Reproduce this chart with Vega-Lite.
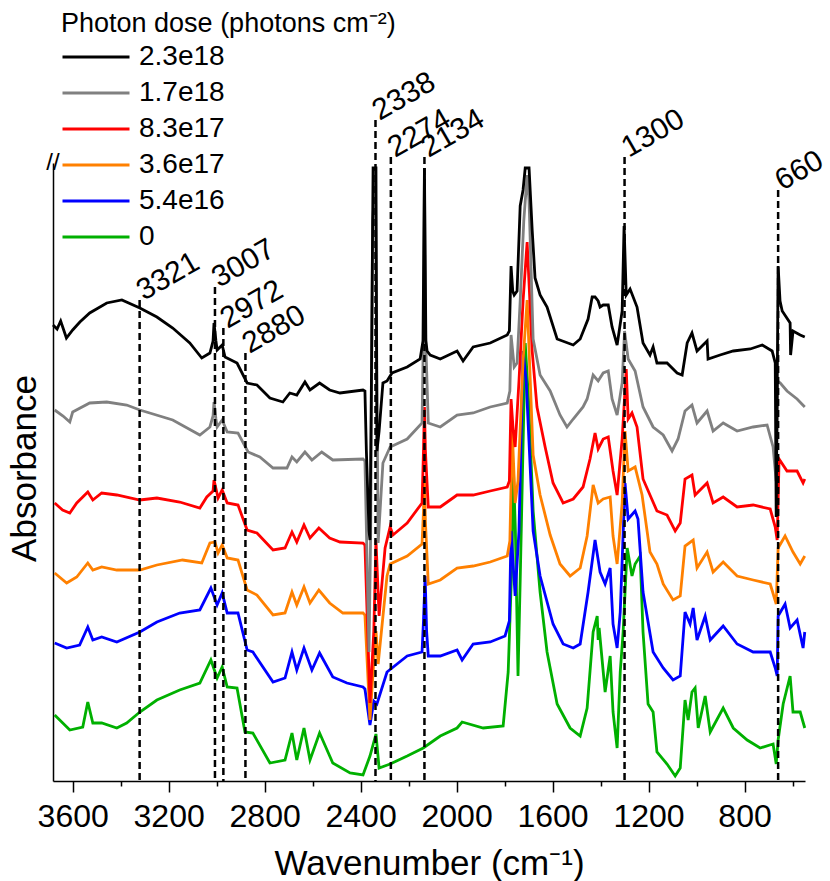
{
  "$schema": "https://vega.github.io/schema/vega-lite/v6.json",
  "width": 752,
  "height": 618,
  "autosize": {"type": "none"},
  "padding": {"left": 53, "top": 163, "right": 25, "bottom": 100},
  "background": "white",
  "config": {"view": {"stroke": null}, "font": "Liberation Sans", "axis": {"grid": false}},
  "datasets": {
    "marks": [
      {"wn": 3321, "top": 481}, {"wn": 3007, "top": 494}, {"wn": 2972, "top": 453},
      {"wn": 2880, "top": 428}, {"wn": 2338, "top": 661}, {"wn": 2274, "top": 624},
      {"wn": 2134, "top": 624}, {"wn": 1300, "top": 624}, {"wn": 660, "top": 591}
    ],
    "spectra": [
      {"d":"0","wn":3675,"a":66},{"d":"0","wn":3612,"a":51},{"d":"0","wn":3558,"a":54},{"d":"0","wn":3537,"a":79},{"d":"0","wn":3516,"a":58},{"d":"0","wn":3479,"a":58},{"d":"0","wn":3416,"a":53},{"d":"0","wn":3375,"a":58},{"d":"0","wn":3320,"a":69},{"d":"0","wn":3249,"a":81},{"d":"0","wn":3154,"a":91},{"d":"0","wn":3070,"a":98},{"d":"0","wn":3024,"a":121},{"d":"0","wn":2998,"a":103},{"d":"0","wn":2977,"a":114},{"d":"0","wn":2956,"a":94},{"d":"0","wn":2915,"a":93},{"d":"0","wn":2882,"a":49},{"d":"0","wn":2849,"a":48},{"d":"0","wn":2778,"a":18},{"d":"0","wn":2715,"a":21},{"d":"0","wn":2686,"a":48},{"d":"0","wn":2666,"a":21},{"d":"0","wn":2636,"a":53},{"d":"0","wn":2611,"a":21},{"d":"0","wn":2571,"a":48},{"d":"0","wn":2516,"a":18},{"d":"0","wn":2444,"a":8},{"d":"0","wn":2390,"a":6},{"d":"0","wn":2361,"a":25},{"d":"0","wn":2336,"a":47},{"d":"0","wn":2323,"a":13},{"d":"0","wn":2277,"a":17},{"d":"0","wn":2206,"a":25},{"d":"0","wn":2139,"a":33},{"d":"0","wn":2068,"a":45},{"d":"0","wn":1998,"a":53},{"d":"0","wn":1977,"a":59},{"d":"0","wn":1889,"a":53},{"d":"0","wn":1806,"a":55},{"d":"0","wn":1785,"a":109},{"d":"0","wn":1768,"a":229},{"d":"0","wn":1764,"a":318},{"d":"0","wn":1755,"a":250},{"d":"0","wn":1744,"a":105},{"d":"0","wn":1735,"a":200},{"d":"0","wn":1714,"a":438},{"d":"0","wn":1700,"a":380},{"d":"0","wn":1681,"a":270},{"d":"0","wn":1652,"a":189},{"d":"0","wn":1623,"a":129},{"d":"0","wn":1581,"a":77},{"d":"0","wn":1527,"a":53},{"d":"0","wn":1485,"a":45},{"d":"0","wn":1456,"a":73},{"d":"0","wn":1431,"a":149},{"d":"0","wn":1414,"a":165},{"d":"0","wn":1410,"a":141},{"d":"0","wn":1406,"a":153},{"d":"0","wn":1381,"a":89},{"d":"0","wn":1360,"a":125},{"d":"0","wn":1348,"a":69},{"d":"0","wn":1331,"a":33},{"d":"0","wn":1318,"a":109},{"d":"0","wn":1306,"a":149},{"d":"0","wn":1289,"a":233},{"d":"0","wn":1269,"a":205},{"d":"0","wn":1256,"a":217},{"d":"0","wn":1235,"a":225},{"d":"0","wn":1223,"a":149},{"d":"0","wn":1202,"a":77},{"d":"0","wn":1181,"a":69},{"d":"0","wn":1165,"a":29},{"d":"0","wn":1123,"a":17},{"d":"0","wn":1089,"a":5},{"d":"0","wn":1068,"a":13},{"d":"0","wn":1048,"a":81},{"d":"0","wn":1035,"a":61},{"d":"0","wn":1019,"a":89},{"d":"0","wn":1006,"a":93},{"d":"0","wn":993,"a":53},{"d":"0","wn":964,"a":85},{"d":"0","wn":943,"a":49},{"d":"0","wn":889,"a":73},{"d":"0","wn":847,"a":53},{"d":"0","wn":789,"a":41},{"d":"0","wn":735,"a":33},{"d":"0","wn":681,"a":37},{"d":"0","wn":668,"a":17},{"d":"0","wn":660,"a":41},{"d":"0","wn":639,"a":77},{"d":"0","wn":610,"a":105},{"d":"0","wn":598,"a":69},{"d":"0","wn":568,"a":69},{"d":"0","wn":549,"a":53},
      {"d":"5.4e16","wn":3675,"a":138},{"d":"5.4e16","wn":3625,"a":133},{"d":"5.4e16","wn":3571,"a":136},{"d":"5.4e16","wn":3537,"a":154},{"d":"5.4e16","wn":3516,"a":141},{"d":"5.4e16","wn":3479,"a":144},{"d":"5.4e16","wn":3416,"a":139},{"d":"5.4e16","wn":3320,"a":149},{"d":"5.4e16","wn":3249,"a":159},{"d":"5.4e16","wn":3154,"a":168},{"d":"5.4e16","wn":3070,"a":171},{"d":"5.4e16","wn":3024,"a":193},{"d":"5.4e16","wn":2998,"a":176},{"d":"5.4e16","wn":2977,"a":188},{"d":"5.4e16","wn":2956,"a":168},{"d":"5.4e16","wn":2911,"a":168},{"d":"5.4e16","wn":2873,"a":131},{"d":"5.4e16","wn":2849,"a":129},{"d":"5.4e16","wn":2765,"a":99},{"d":"5.4e16","wn":2715,"a":103},{"d":"5.4e16","wn":2686,"a":129},{"d":"5.4e16","wn":2666,"a":111},{"d":"5.4e16","wn":2636,"a":133},{"d":"5.4e16","wn":2603,"a":111},{"d":"5.4e16","wn":2571,"a":128},{"d":"5.4e16","wn":2516,"a":104},{"d":"5.4e16","wn":2457,"a":98},{"d":"5.4e16","wn":2390,"a":94},{"d":"5.4e16","wn":2382,"a":92},{"d":"5.4e16","wn":2361,"a":56},{"d":"5.4e16","wn":2345,"a":80},{"d":"5.4e16","wn":2332,"a":77},{"d":"5.4e16","wn":2290,"a":109},{"d":"5.4e16","wn":2206,"a":125},{"d":"5.4e16","wn":2144,"a":129},{"d":"5.4e16","wn":2138,"a":160},{"d":"5.4e16","wn":2131,"a":205},{"d":"5.4e16","wn":2125,"a":150},{"d":"5.4e16","wn":2118,"a":125},{"d":"5.4e16","wn":2068,"a":125},{"d":"5.4e16","wn":1998,"a":131},{"d":"5.4e16","wn":1977,"a":121},{"d":"5.4e16","wn":1931,"a":137},{"d":"5.4e16","wn":1860,"a":139},{"d":"5.4e16","wn":1798,"a":145},{"d":"5.4e16","wn":1780,"a":160},{"d":"5.4e16","wn":1773,"a":250},{"d":"5.4e16","wn":1756,"a":185},{"d":"5.4e16","wn":1740,"a":250},{"d":"5.4e16","wn":1723,"a":430},{"d":"5.4e16","wn":1710,"a":400},{"d":"5.4e16","wn":1681,"a":250},{"d":"5.4e16","wn":1652,"a":205},{"d":"5.4e16","wn":1598,"a":157},{"d":"5.4e16","wn":1556,"a":137},{"d":"5.4e16","wn":1514,"a":133},{"d":"5.4e16","wn":1485,"a":137},{"d":"5.4e16","wn":1452,"a":189},{"d":"5.4e16","wn":1423,"a":241},{"d":"5.4e16","wn":1402,"a":209},{"d":"5.4e16","wn":1381,"a":197},{"d":"5.4e16","wn":1360,"a":213},{"d":"5.4e16","wn":1348,"a":157},{"d":"5.4e16","wn":1331,"a":133},{"d":"5.4e16","wn":1318,"a":169},{"d":"5.4e16","wn":1298,"a":298},{"d":"5.4e16","wn":1285,"a":262},{"d":"5.4e16","wn":1256,"a":270},{"d":"5.4e16","wn":1244,"a":262},{"d":"5.4e16","wn":1223,"a":189},{"d":"5.4e16","wn":1181,"a":129},{"d":"5.4e16","wn":1139,"a":113},{"d":"5.4e16","wn":1098,"a":101},{"d":"5.4e16","wn":1068,"a":105},{"d":"5.4e16","wn":1048,"a":169},{"d":"5.4e16","wn":1027,"a":157},{"d":"5.4e16","wn":1014,"a":173},{"d":"5.4e16","wn":998,"a":141},{"d":"5.4e16","wn":964,"a":165},{"d":"5.4e16","wn":943,"a":141},{"d":"5.4e16","wn":889,"a":155},{"d":"5.4e16","wn":831,"a":137},{"d":"5.4e16","wn":764,"a":129},{"d":"5.4e16","wn":693,"a":129},{"d":"5.4e16","wn":672,"a":113},{"d":"5.4e16","wn":664,"a":105},{"d":"5.4e16","wn":660,"a":165},{"d":"5.4e16","wn":631,"a":177},{"d":"5.4e16","wn":610,"a":153},{"d":"5.4e16","wn":581,"a":161},{"d":"5.4e16","wn":556,"a":133},{"d":"5.4e16","wn":549,"a":149},
      {"d":"3.6e17","wn":3675,"a":208},{"d":"3.6e17","wn":3625,"a":198},{"d":"3.6e17","wn":3583,"a":204},{"d":"3.6e17","wn":3537,"a":218},{"d":"3.6e17","wn":3516,"a":211},{"d":"3.6e17","wn":3479,"a":214},{"d":"3.6e17","wn":3416,"a":211},{"d":"3.6e17","wn":3320,"a":211},{"d":"3.6e17","wn":3249,"a":216},{"d":"3.6e17","wn":3142,"a":221},{"d":"3.6e17","wn":3062,"a":218},{"d":"3.6e17","wn":3028,"a":238},{"d":"3.6e17","wn":3007,"a":239},{"d":"3.6e17","wn":2994,"a":228},{"d":"3.6e17","wn":2977,"a":236},{"d":"3.6e17","wn":2956,"a":223},{"d":"3.6e17","wn":2911,"a":221},{"d":"3.6e17","wn":2873,"a":191},{"d":"3.6e17","wn":2832,"a":186},{"d":"3.6e17","wn":2765,"a":166},{"d":"3.6e17","wn":2715,"a":168},{"d":"3.6e17","wn":2686,"a":189},{"d":"3.6e17","wn":2666,"a":176},{"d":"3.6e17","wn":2636,"a":194},{"d":"3.6e17","wn":2611,"a":178},{"d":"3.6e17","wn":2574,"a":191},{"d":"3.6e17","wn":2529,"a":178},{"d":"3.6e17","wn":2474,"a":168},{"d":"3.6e17","wn":2390,"a":168},{"d":"3.6e17","wn":2382,"a":166},{"d":"3.6e17","wn":2361,"a":61},{"d":"3.6e17","wn":2345,"a":120},{"d":"3.6e17","wn":2336,"a":150},{"d":"3.6e17","wn":2327,"a":117},{"d":"3.6e17","wn":2290,"a":205},{"d":"3.6e17","wn":2277,"a":217},{"d":"3.6e17","wn":2206,"a":225},{"d":"3.6e17","wn":2144,"a":237},{"d":"3.6e17","wn":2138,"a":270},{"d":"3.6e17","wn":2134,"a":302},{"d":"3.6e17","wn":2130,"a":260},{"d":"3.6e17","wn":2118,"a":197},{"d":"3.6e17","wn":2068,"a":201},{"d":"3.6e17","wn":1998,"a":213},{"d":"3.6e17","wn":1931,"a":215},{"d":"3.6e17","wn":1860,"a":219},{"d":"3.6e17","wn":1789,"a":225},{"d":"3.6e17","wn":1778,"a":240},{"d":"3.6e17","wn":1768,"a":350},{"d":"3.6e17","wn":1756,"a":278},{"d":"3.6e17","wn":1744,"a":300},{"d":"3.6e17","wn":1723,"a":420},{"d":"3.6e17","wn":1706,"a":481},{"d":"3.6e17","wn":1681,"a":326},{"d":"3.6e17","wn":1652,"a":286},{"d":"3.6e17","wn":1610,"a":246},{"d":"3.6e17","wn":1569,"a":217},{"d":"3.6e17","wn":1527,"a":205},{"d":"3.6e17","wn":1485,"a":213},{"d":"3.6e17","wn":1456,"a":245},{"d":"3.6e17","wn":1431,"a":296},{"d":"3.6e17","wn":1410,"a":278},{"d":"3.6e17","wn":1389,"a":282},{"d":"3.6e17","wn":1360,"a":284},{"d":"3.6e17","wn":1348,"a":245},{"d":"3.6e17","wn":1331,"a":217},{"d":"3.6e17","wn":1310,"a":278},{"d":"3.6e17","wn":1298,"a":350},{"d":"3.6e17","wn":1285,"a":310},{"d":"3.6e17","wn":1256,"a":314},{"d":"3.6e17","wn":1227,"a":286},{"d":"3.6e17","wn":1194,"a":229},{"d":"3.6e17","wn":1165,"a":217},{"d":"3.6e17","wn":1139,"a":197},{"d":"3.6e17","wn":1098,"a":181},{"d":"3.6e17","wn":1068,"a":185},{"d":"3.6e17","wn":1048,"a":235},{"d":"3.6e17","wn":1014,"a":241},{"d":"3.6e17","wn":998,"a":213},{"d":"3.6e17","wn":956,"a":229},{"d":"3.6e17","wn":931,"a":209},{"d":"3.6e17","wn":889,"a":219},{"d":"3.6e17","wn":831,"a":205},{"d":"3.6e17","wn":764,"a":201},{"d":"3.6e17","wn":693,"a":197},{"d":"3.6e17","wn":668,"a":177},{"d":"3.6e17","wn":660,"a":233},{"d":"3.6e17","wn":631,"a":245},{"d":"3.6e17","wn":598,"a":229},{"d":"3.6e17","wn":568,"a":217},{"d":"3.6e17","wn":549,"a":225},
      {"d":"8.3e17","wn":3675,"a":278},{"d":"8.3e17","wn":3642,"a":271},{"d":"8.3e17","wn":3612,"a":268},{"d":"8.3e17","wn":3583,"a":278},{"d":"8.3e17","wn":3537,"a":289},{"d":"8.3e17","wn":3516,"a":281},{"d":"8.3e17","wn":3479,"a":288},{"d":"8.3e17","wn":3416,"a":286},{"d":"8.3e17","wn":3320,"a":281},{"d":"8.3e17","wn":3249,"a":283},{"d":"8.3e17","wn":3154,"a":279},{"d":"8.3e17","wn":3070,"a":273},{"d":"8.3e17","wn":3041,"a":284},{"d":"8.3e17","wn":3015,"a":290},{"d":"8.3e17","wn":3011,"a":301},{"d":"8.3e17","wn":2994,"a":283},{"d":"8.3e17","wn":2977,"a":291},{"d":"8.3e17","wn":2956,"a":278},{"d":"8.3e17","wn":2911,"a":276},{"d":"8.3e17","wn":2873,"a":251},{"d":"8.3e17","wn":2832,"a":248},{"d":"8.3e17","wn":2765,"a":231},{"d":"8.3e17","wn":2715,"a":233},{"d":"8.3e17","wn":2686,"a":249},{"d":"8.3e17","wn":2666,"a":239},{"d":"8.3e17","wn":2636,"a":256},{"d":"8.3e17","wn":2611,"a":243},{"d":"8.3e17","wn":2574,"a":253},{"d":"8.3e17","wn":2529,"a":243},{"d":"8.3e17","wn":2486,"a":239},{"d":"8.3e17","wn":2390,"a":238},{"d":"8.3e17","wn":2382,"a":236},{"d":"8.3e17","wn":2361,"a":78},{"d":"8.3e17","wn":2345,"a":150},{"d":"8.3e17","wn":2336,"a":241},{"d":"8.3e17","wn":2323,"a":165},{"d":"8.3e17","wn":2298,"a":233},{"d":"8.3e17","wn":2277,"a":254},{"d":"8.3e17","wn":2265,"a":246},{"d":"8.3e17","wn":2206,"a":258},{"d":"8.3e17","wn":2144,"a":278},{"d":"8.3e17","wn":2138,"a":330},{"d":"8.3e17","wn":2134,"a":374},{"d":"8.3e17","wn":2130,"a":330},{"d":"8.3e17","wn":2118,"a":274},{"d":"8.3e17","wn":2068,"a":274},{"d":"8.3e17","wn":1998,"a":286},{"d":"8.3e17","wn":1931,"a":286},{"d":"8.3e17","wn":1860,"a":290},{"d":"8.3e17","wn":1789,"a":294},{"d":"8.3e17","wn":1780,"a":300},{"d":"8.3e17","wn":1773,"a":382},{"d":"8.3e17","wn":1764,"a":350},{"d":"8.3e17","wn":1756,"a":334},{"d":"8.3e17","wn":1740,"a":400},{"d":"8.3e17","wn":1723,"a":480},{"d":"8.3e17","wn":1706,"a":539},{"d":"8.3e17","wn":1685,"a":430},{"d":"8.3e17","wn":1665,"a":374},{"d":"8.3e17","wn":1631,"a":334},{"d":"8.3e17","wn":1598,"a":298},{"d":"8.3e17","wn":1556,"a":278},{"d":"8.3e17","wn":1514,"a":282},{"d":"8.3e17","wn":1473,"a":294},{"d":"8.3e17","wn":1444,"a":322},{"d":"8.3e17","wn":1423,"a":348},{"d":"8.3e17","wn":1410,"a":332},{"d":"8.3e17","wn":1389,"a":342},{"d":"8.3e17","wn":1368,"a":344},{"d":"8.3e17","wn":1348,"a":310},{"d":"8.3e17","wn":1331,"a":286},{"d":"8.3e17","wn":1310,"a":342},{"d":"8.3e17","wn":1293,"a":412},{"d":"8.3e17","wn":1285,"a":362},{"d":"8.3e17","wn":1269,"a":368},{"d":"8.3e17","wn":1248,"a":354},{"d":"8.3e17","wn":1223,"a":302},{"d":"8.3e17","wn":1194,"a":286},{"d":"8.3e17","wn":1165,"a":270},{"d":"8.3e17","wn":1123,"a":266},{"d":"8.3e17","wn":1089,"a":250},{"d":"8.3e17","wn":1068,"a":258},{"d":"8.3e17","wn":1048,"a":302},{"d":"8.3e17","wn":1019,"a":306},{"d":"8.3e17","wn":1006,"a":286},{"d":"8.3e17","wn":956,"a":298},{"d":"8.3e17","wn":931,"a":278},{"d":"8.3e17","wn":889,"a":284},{"d":"8.3e17","wn":831,"a":274},{"d":"8.3e17","wn":764,"a":276},{"d":"8.3e17","wn":693,"a":272},{"d":"8.3e17","wn":672,"a":254},{"d":"8.3e17","wn":664,"a":241},{"d":"8.3e17","wn":656,"a":322},{"d":"8.3e17","wn":623,"a":310},{"d":"8.3e17","wn":581,"a":310},{"d":"8.3e17","wn":556,"a":298},{"d":"8.3e17","wn":549,"a":302},
      {"d":"1.7e18","wn":3675,"a":371},{"d":"1.7e18","wn":3640,"a":365},{"d":"1.7e18","wn":3612,"a":359},{"d":"1.7e18","wn":3600,"a":369},{"d":"1.7e18","wn":3529,"a":378},{"d":"1.7e18","wn":3458,"a":379},{"d":"1.7e18","wn":3375,"a":376},{"d":"1.7e18","wn":3320,"a":371},{"d":"1.7e18","wn":3183,"a":361},{"d":"1.7e18","wn":3070,"a":346},{"d":"1.7e18","wn":3028,"a":354},{"d":"1.7e18","wn":3015,"a":365},{"d":"1.7e18","wn":3011,"a":379},{"d":"1.7e18","wn":3003,"a":362},{"d":"1.7e18","wn":2998,"a":354},{"d":"1.7e18","wn":2977,"a":361},{"d":"1.7e18","wn":2956,"a":349},{"d":"1.7e18","wn":2911,"a":348},{"d":"1.7e18","wn":2869,"a":329},{"d":"1.7e18","wn":2820,"a":324},{"d":"1.7e18","wn":2765,"a":313},{"d":"1.7e18","wn":2707,"a":313},{"d":"1.7e18","wn":2686,"a":324},{"d":"1.7e18","wn":2666,"a":319},{"d":"1.7e18","wn":2632,"a":329},{"d":"1.7e18","wn":2603,"a":321},{"d":"1.7e18","wn":2562,"a":329},{"d":"1.7e18","wn":2516,"a":321},{"d":"1.7e18","wn":2390,"a":322},{"d":"1.7e18","wn":2382,"a":320},{"d":"1.7e18","wn":2365,"a":129},{"d":"1.7e18","wn":2358,"a":250},{"d":"1.7e18","wn":2350,"a":560},{"d":"1.7e18","wn":2338,"a":600},{"d":"1.7e18","wn":2332,"a":400},{"d":"1.7e18","wn":2327,"a":238},{"d":"1.7e18","wn":2307,"a":318},{"d":"1.7e18","wn":2277,"a":334},{"d":"1.7e18","wn":2206,"a":342},{"d":"1.7e18","wn":2144,"a":358},{"d":"1.7e18","wn":2138,"a":450},{"d":"1.7e18","wn":2134,"a":606},{"d":"1.7e18","wn":2130,"a":450},{"d":"1.7e18","wn":2118,"a":358},{"d":"1.7e18","wn":2068,"a":354},{"d":"1.7e18","wn":1998,"a":366},{"d":"1.7e18","wn":1931,"a":368},{"d":"1.7e18","wn":1860,"a":374},{"d":"1.7e18","wn":1789,"a":378},{"d":"1.7e18","wn":1778,"a":390},{"d":"1.7e18","wn":1773,"a":446},{"d":"1.7e18","wn":1760,"a":414},{"d":"1.7e18","wn":1748,"a":418},{"d":"1.7e18","wn":1735,"a":480},{"d":"1.7e18","wn":1720,"a":560},{"d":"1.7e18","wn":1706,"a":606},{"d":"1.7e18","wn":1698,"a":580},{"d":"1.7e18","wn":1681,"a":442},{"d":"1.7e18","wn":1652,"a":406},{"d":"1.7e18","wn":1610,"a":390},{"d":"1.7e18","wn":1569,"a":366},{"d":"1.7e18","wn":1540,"a":354},{"d":"1.7e18","wn":1514,"a":362},{"d":"1.7e18","wn":1473,"a":374},{"d":"1.7e18","wn":1456,"a":382},{"d":"1.7e18","wn":1431,"a":406},{"d":"1.7e18","wn":1410,"a":400},{"d":"1.7e18","wn":1389,"a":408},{"d":"1.7e18","wn":1368,"a":410},{"d":"1.7e18","wn":1352,"a":382},{"d":"1.7e18","wn":1331,"a":366},{"d":"1.7e18","wn":1310,"a":398},{"d":"1.7e18","wn":1300,"a":450},{"d":"1.7e18","wn":1285,"a":422},{"d":"1.7e18","wn":1256,"a":410},{"d":"1.7e18","wn":1223,"a":374},{"d":"1.7e18","wn":1181,"a":354},{"d":"1.7e18","wn":1139,"a":346},{"d":"1.7e18","wn":1102,"a":330},{"d":"1.7e18","wn":1077,"a":342},{"d":"1.7e18","wn":1048,"a":370},{"d":"1.7e18","wn":1019,"a":376},{"d":"1.7e18","wn":998,"a":358},{"d":"1.7e18","wn":956,"a":370},{"d":"1.7e18","wn":931,"a":350},{"d":"1.7e18","wn":889,"a":358},{"d":"1.7e18","wn":831,"a":350},{"d":"1.7e18","wn":764,"a":354},{"d":"1.7e18","wn":706,"a":356},{"d":"1.7e18","wn":681,"a":334},{"d":"1.7e18","wn":668,"a":300},{"d":"1.7e18","wn":662,"a":400},{"d":"1.7e18","wn":651,"a":398},{"d":"1.7e18","wn":623,"a":390},{"d":"1.7e18","wn":581,"a":382},{"d":"1.7e18","wn":549,"a":374},
      {"d":"2.3e18","wn":3682,"a":456},{"d":"2.3e18","wn":3665,"a":452},{"d":"2.3e18","wn":3650,"a":460},{"d":"2.3e18","wn":3626,"a":443},{"d":"2.3e18","wn":3600,"a":451},{"d":"2.3e18","wn":3570,"a":459},{"d":"2.3e18","wn":3529,"a":468},{"d":"2.3e18","wn":3458,"a":478},{"d":"2.3e18","wn":3395,"a":481},{"d":"2.3e18","wn":3320,"a":473},{"d":"2.3e18","wn":3249,"a":464},{"d":"2.3e18","wn":3183,"a":453},{"d":"2.3e18","wn":3112,"a":438},{"d":"2.3e18","wn":3062,"a":423},{"d":"2.3e18","wn":3028,"a":428},{"d":"2.3e18","wn":3015,"a":440},{"d":"2.3e18","wn":3011,"a":458},{"d":"2.3e18","wn":3003,"a":440},{"d":"2.3e18","wn":2998,"a":431},{"d":"2.3e18","wn":2977,"a":436},{"d":"2.3e18","wn":2965,"a":424},{"d":"2.3e18","wn":2915,"a":418},{"d":"2.3e18","wn":2873,"a":398},{"d":"2.3e18","wn":2832,"a":396},{"d":"2.3e18","wn":2778,"a":383},{"d":"2.3e18","wn":2724,"a":379},{"d":"2.3e18","wn":2695,"a":388},{"d":"2.3e18","wn":2666,"a":386},{"d":"2.3e18","wn":2632,"a":399},{"d":"2.3e18","wn":2611,"a":391},{"d":"2.3e18","wn":2571,"a":398},{"d":"2.3e18","wn":2529,"a":391},{"d":"2.3e18","wn":2486,"a":388},{"d":"2.3e18","wn":2390,"a":391},{"d":"2.3e18","wn":2382,"a":390},{"d":"2.3e18","wn":2376,"a":330},{"d":"2.3e18","wn":2365,"a":250},{"d":"2.3e18","wn":2361,"a":241},{"d":"2.3e18","wn":2355,"a":400},{"d":"2.3e18","wn":2348,"a":613},{"d":"2.3e18","wn":2336,"a":613},{"d":"2.3e18","wn":2332,"a":330},{"d":"2.3e18","wn":2323,"a":350},{"d":"2.3e18","wn":2307,"a":398},{"d":"2.3e18","wn":2290,"a":400},{"d":"2.3e18","wn":2269,"a":408},{"d":"2.3e18","wn":2206,"a":414},{"d":"2.3e18","wn":2152,"a":422},{"d":"2.3e18","wn":2140,"a":440},{"d":"2.3e18","wn":2134,"a":613},{"d":"2.3e18","wn":2128,"a":440},{"d":"2.3e18","wn":2123,"a":430},{"d":"2.3e18","wn":2110,"a":426},{"d":"2.3e18","wn":2068,"a":422},{"d":"2.3e18","wn":1998,"a":430},{"d":"2.3e18","wn":1973,"a":420},{"d":"2.3e18","wn":1931,"a":434},{"d":"2.3e18","wn":1860,"a":438},{"d":"2.3e18","wn":1789,"a":446},{"d":"2.3e18","wn":1780,"a":450},{"d":"2.3e18","wn":1773,"a":515},{"d":"2.3e18","wn":1766,"a":490},{"d":"2.3e18","wn":1760,"a":486},{"d":"2.3e18","wn":1748,"a":490},{"d":"2.3e18","wn":1735,"a":575},{"d":"2.3e18","wn":1723,"a":591},{"d":"2.3e18","wn":1714,"a":613},{"d":"2.3e18","wn":1698,"a":613},{"d":"2.3e18","wn":1685,"a":551},{"d":"2.3e18","wn":1673,"a":503},{"d":"2.3e18","wn":1652,"a":486},{"d":"2.3e18","wn":1623,"a":474},{"d":"2.3e18","wn":1581,"a":442},{"d":"2.3e18","wn":1514,"a":436},{"d":"2.3e18","wn":1485,"a":442},{"d":"2.3e18","wn":1452,"a":462},{"d":"2.3e18","wn":1435,"a":484},{"d":"2.3e18","wn":1423,"a":484},{"d":"2.3e18","wn":1410,"a":480},{"d":"2.3e18","wn":1402,"a":474},{"d":"2.3e18","wn":1389,"a":476},{"d":"2.3e18","wn":1368,"a":476},{"d":"2.3e18","wn":1352,"a":454},{"d":"2.3e18","wn":1331,"a":436},{"d":"2.3e18","wn":1310,"a":470},{"d":"2.3e18","wn":1302,"a":555},{"d":"2.3e18","wn":1293,"a":486},{"d":"2.3e18","wn":1277,"a":492},{"d":"2.3e18","wn":1248,"a":474},{"d":"2.3e18","wn":1223,"a":438},{"d":"2.3e18","wn":1194,"a":426},{"d":"2.3e18","wn":1181,"a":434},{"d":"2.3e18","wn":1165,"a":418},{"d":"2.3e18","wn":1123,"a":418},{"d":"2.3e18","wn":1081,"a":408},{"d":"2.3e18","wn":1060,"a":406},{"d":"2.3e18","wn":1039,"a":438},{"d":"2.3e18","wn":1019,"a":448},{"d":"2.3e18","wn":998,"a":430},{"d":"2.3e18","wn":956,"a":440},{"d":"2.3e18","wn":952,"a":422},{"d":"2.3e18","wn":902,"a":426},{"d":"2.3e18","wn":847,"a":430},{"d":"2.3e18","wn":776,"a":432},{"d":"2.3e18","wn":726,"a":436},{"d":"2.3e18","wn":685,"a":430},{"d":"2.3e18","wn":672,"a":418},{"d":"2.3e18","wn":668,"a":264},{"d":"2.3e18","wn":660,"a":515},{"d":"2.3e18","wn":652,"a":480},{"d":"2.3e18","wn":643,"a":470},{"d":"2.3e18","wn":610,"a":458},{"d":"2.3e18","wn":608,"a":426},{"d":"2.3e18","wn":598,"a":450},{"d":"2.3e18","wn":568,"a":446},{"d":"2.3e18","wn":549,"a":444}
    ]
  },
  "layer": [
    {
      "data": {"name": "spectra"},
      "mark": {"type": "line", "strokeWidth": 2.8},
      "encoding": {
        "x": {
          "field": "wn", "type": "quantitative",
          "scale": {"domain": [548, 3682], "reverse": true, "nice": false, "zero": false},
          "axis": {
            "orient": "bottom", "values": [3600, 3200, 2800, 2400, 2000, 1600, 1200, 800], "format": "d",
            "labelFontSize": 32, "labelColor": "black", "labelPadding": 9, "labelFlush": false, "labelOverlap": false,
            "tickSize": 11, "tickWidth": 1.5, "tickColor": "black", "domainColor": "black", "domainWidth": 1.5,
            "title": "Wavenumber (cm⁻¹)", "titleFontSize": 35, "titleFontWeight": "normal", "titleColor": "black",
            "titleBaseline": "alphabetic", "titleY": 93
          }
        },
        "y": {
          "field": "a", "type": "quantitative",
          "scale": {"domain": [0, 618], "nice": false, "zero": false},
          "axis": {
            "ticks": false, "labels": false, "domainColor": "black", "domainWidth": 1.5,
            "title": "Absorbance", "titleFontSize": 35, "titleFontWeight": "normal", "titleColor": "black",
            "titleBaseline": "alphabetic", "titleX": -18, "titleY": 305
          }
        },
        "color": {
          "field": "d", "type": "nominal",
          "scale": {
            "domain": ["2.3e18", "1.7e18", "8.3e17", "3.6e17", "5.4e16", "0"],
            "range": ["#000000", "#808080", "#ff0000", "#ff8000", "#0000ff", "#00b000"]
          },
          "legend": {
            "orient": "none", "legendX": 8, "legendY": -152, "direction": "vertical", "padding": 0,
            "title": "Photon dose (photons cm⁻²)", "titleFontSize": 27, "titleFontWeight": "normal", "titleColor": "black",
            "titlePadding": 1, "titleLimit": 600,
            "labelFontSize": 28, "labelColor": "black", "labelOffset": 8,
            "symbolType": "stroke", "symbolSize": 4489, "symbolStrokeWidth": 3,
            "clipHeight": 36, "rowPadding": 0
          }
        }
      }
    },
    {
      "data": {"name": "marks"},
      "mark": {"type": "rule", "strokeDash": [7, 4], "strokeWidth": 2.5, "color": "black"},
      "encoding": {
        "x": {
          "field": "wn", "type": "quantitative",
          "axis": {
            "orient": "bottom", "values": [3400, 3000, 2600, 2200, 1800, 1400, 1000, 600],
            "labels": false, "domain": false, "tickSize": 5, "tickWidth": 1.5, "tickColor": "black", "title": null
          }
        },
        "y": {"field": "top", "type": "quantitative"},
        "y2": {"datum": 0}
      }
    },
    {
      "data": {"name": "marks"},
      "mark": {"type": "text", "angle": 330, "align": "left", "baseline": "alphabetic", "fontSize": 30, "dx": 3, "dy": 3, "color": "black"},
      "encoding": {
        "x": {"field": "wn", "type": "quantitative", "axis": null},
        "y": {"field": "top", "type": "quantitative"},
        "text": {"field": "wn", "type": "quantitative", "format": "d"}
      }
    },
    {
      "data": {"values": [{"wn": 3682, "top": 618}]},
      "mark": {"type": "text", "text": "//", "fontSize": 24, "align": "center", "baseline": "middle", "color": "black"},
      "encoding": {
        "x": {"field": "wn", "type": "quantitative", "axis": null},
        "y": {"field": "top", "type": "quantitative"}
      }
    }
  ],
  "resolve": {"axis": {"x": "independent"}}
}
